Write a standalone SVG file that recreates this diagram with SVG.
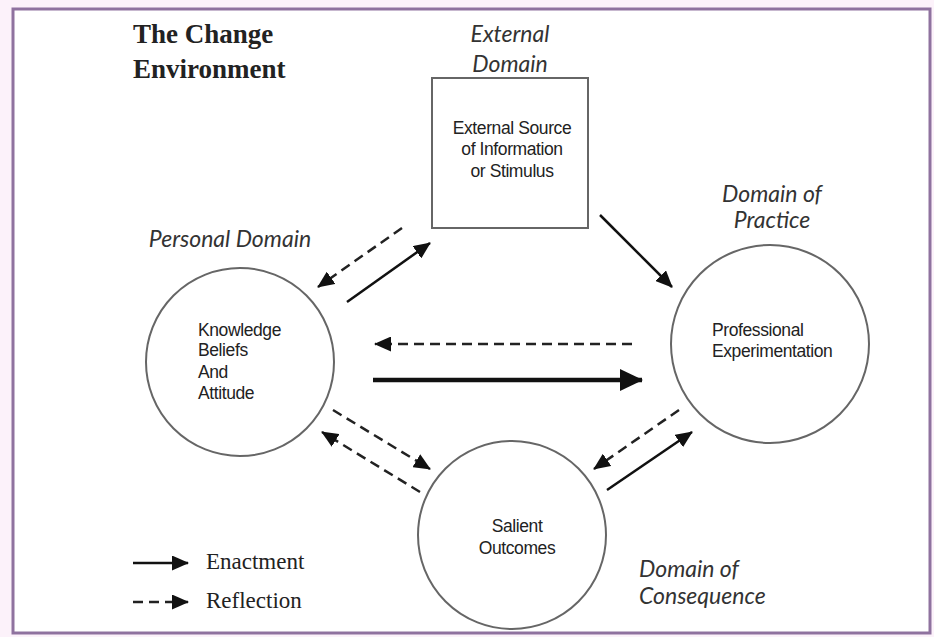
<svg xmlns="http://www.w3.org/2000/svg" width="934" height="637" viewBox="0 0 934 637">
<defs>
<style>
.title{font-family:"Liberation Serif",serif;font-weight:bold;font-size:27px;fill:#222}
.dom{font-family:"Lato","Open Sans",sans-serif;font-style:italic;font-size:23px;fill:#333}
.body{font-family:"Liberation Sans",Arial,sans-serif;font-size:17.5px;letter-spacing:-0.4px;fill:#222}
.leg{font-family:"Liberation Serif",serif;font-size:23px;fill:#222}
.node{fill:#fff;stroke:#666;stroke-width:2}
.solid{stroke:#111;stroke-width:2.5;fill:none}
.thick{stroke:#111;stroke-width:4.5;fill:none}
.dash{stroke:#222;stroke-width:2.5;fill:none;stroke-dasharray:10 6}
</style>
<marker id="ahL" markerWidth="17" markerHeight="15" refX="16" refY="7.5" orient="auto" markerUnits="userSpaceOnUse" viewBox="0 0 17 15">
<path d="M0,0 L17,7.5 L0,15 Z" fill="#111"/>
</marker>
<marker id="ahM" markerWidth="23" markerHeight="22" refX="22" refY="11" orient="auto" markerUnits="userSpaceOnUse" viewBox="0 0 23 22">
<path d="M0,0 L23,11 L0,22 Z" fill="#111"/>
</marker>
</defs>
<rect x="0" y="0" width="934" height="637" fill="#fcf2fa"/>
<rect x="13" y="9" width="917" height="624" fill="#fff" stroke="#8f729f" stroke-width="3"/>

<g id="title">
<text class="title" x="133" y="43">The Change</text>
<text class="title" x="133" y="78">Environment</text>
</g>

<g id="external">
<text class="dom" x="510" y="42" text-anchor="middle">External</text>
<text class="dom" x="510" y="72" text-anchor="middle">Domain</text>
<rect class="node" x="432" y="78" width="156" height="150"/>
<text class="body" x="512" y="134" text-anchor="middle">External Source</text>
<text class="body" x="512" y="155" text-anchor="middle">of Information</text>
<text class="body" x="512" y="177" text-anchor="middle">or Stimulus</text>
</g>

<g id="personal">
<text class="dom" x="230" y="247" text-anchor="middle">Personal Domain</text>
<circle class="node" cx="240" cy="362" r="94"/>
<text class="body" x="198" y="336">Knowledge</text>
<text class="body" x="198" y="356">Beliefs</text>
<text class="body" x="198" y="378">And</text>
<text class="body" x="198" y="399">Attitude</text>
</g>

<g id="practice">
<text class="dom" x="772" y="202" text-anchor="middle">Domain of</text>
<text class="dom" x="772" y="228" text-anchor="middle">Practice</text>
<circle class="node" cx="770" cy="344" r="99"/>
<text class="body" x="712" y="336">Professional</text>
<text class="body" x="712" y="357">Experimentation</text>
</g>

<g id="consequence">
<circle class="node" cx="512" cy="535" r="94"/>
<text class="body" x="517" y="532" text-anchor="middle">Salient</text>
<text class="body" x="517" y="554" text-anchor="middle">Outcomes</text>
<text class="dom" x="639" y="577">Domain of</text>
<text class="dom" x="639" y="604">Consequence</text>
</g>

<g id="connectors">
<line class="dash" x1="402" y1="228" x2="318" y2="287" marker-end="url(#ahL)"/>
<line class="solid" x1="347" y1="302" x2="430" y2="243" marker-end="url(#ahL)"/>
<line class="solid" x1="600" y1="215" x2="672" y2="287" marker-end="url(#ahL)"/>
<line class="dash" x1="632" y1="344" x2="375" y2="344" marker-end="url(#ahL)"/>
<line class="thick" x1="373" y1="380" x2="642" y2="380" marker-end="url(#ahM)"/>
<line class="dash" x1="333" y1="410" x2="430" y2="469" marker-end="url(#ahL)"/>
<line class="dash" x1="420" y1="492" x2="322" y2="432" marker-end="url(#ahL)"/>
<line class="dash" x1="679" y1="410" x2="594" y2="469" marker-end="url(#ahL)"/>
<line class="solid" x1="607" y1="490" x2="692" y2="432" marker-end="url(#ahL)"/>
</g>

<g id="legend">
<line class="solid" x1="133" y1="563" x2="188" y2="563" marker-end="url(#ahL)"/>
<text class="leg" x="206" y="569">Enactment</text>
<line class="dash" x1="133" y1="602" x2="188" y2="602" marker-end="url(#ahL)"/>
<text class="leg" x="206" y="608">Reflection</text>
</g>
</svg>
